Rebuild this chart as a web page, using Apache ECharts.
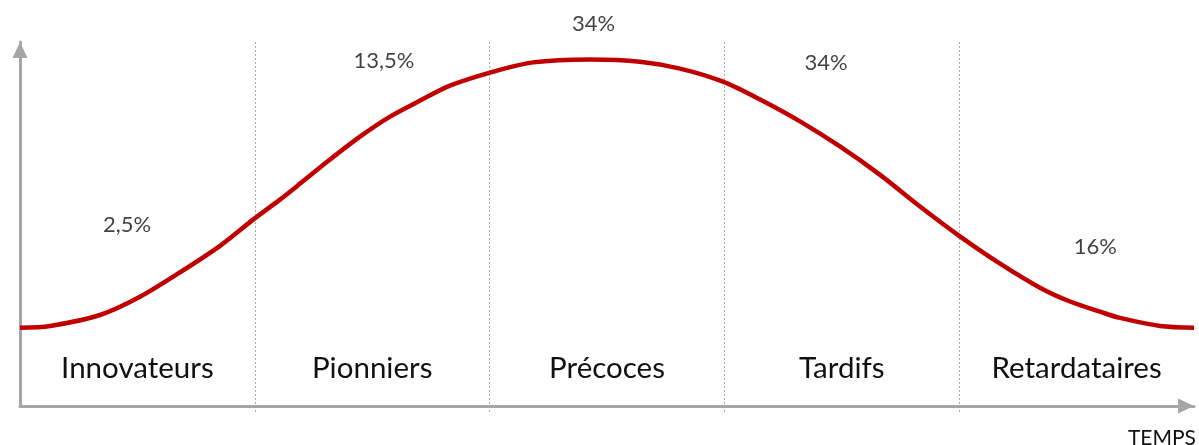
<!DOCTYPE html>
<html>
<head>
<meta charset="utf-8">
<script src="https://cdn.jsdelivr.net/npm/echarts@6/dist/echarts.min.js"></script>
<style>html,body{margin:0;padding:0;background:#fff}#c{width:1199px;height:445px}</style>
</head>
<body>
<div id="c"></div>
<script>
// Adopter categories (one per time segment)
const categories = ['Innovateurs', 'Pionniers', 'Précoces', 'Tardifs', 'Retardataires'];
// Curve: time (segment units 0..5) and adoption level (0..100)
const curveX = [0, 0.128, 0.341, 0.511, 0.681, 0.852, 0.997, 1.107, 1.193, 1.32, 1.448, 1.576, 1.704, 1.831, 2.002, 2.185, 2.428, 2.641, 2.811, 2.994, 3.152, 3.322, 3.492, 3.663, 3.833, 4.003, 4.174, 4.344, 4.472, 4.6, 4.685, 4.855, 5.0];
const curveY = [21.5, 22.0, 25.0, 30.0, 36.7, 44.0, 51.4, 56.7, 61.1, 67.7, 74.0, 79.5, 83.9, 88.0, 91.6, 94.4, 95.2, 94.6, 92.7, 89.1, 84.2, 78.2, 71.3, 63.5, 54.8, 46.6, 39.1, 32.5, 28.7, 25.9, 24.2, 22.0, 21.5];
// Share labels and where they sit
const shareLabels = ['2,5%', '13,5%', '34%', '34%', '16%'];
const shareX = [0.456, 1.55, 2.443, 3.433, 4.58];
const shareY = [49.7, 94.8, 105.1, 94.2, 43.6];
const dividers = [1, 2, 3, 4];
const labelPos = [0.5, 1.5, 2.5, 3.5, 4.5];

const axisGray = '#A6A6A6';
const textColor = '#111111';
const font = 'Lato, "Open Sans", sans-serif';

const chart = echarts.init(document.getElementById('c'), null, {renderer: 'canvas'});
chart.setOption({
  animation: false,
  backgroundColor: '#fff',
  grid: {left: 20, right: 5, top: 42, bottom: 39, containLabel: false, outerBoundsMode: 'none'},
  xAxis: {
    type: 'value', min: 0, max: 5, interval: 1,
    name: 'TEMPS', nameLocation: 'end', nameGap: 2,
    nameTextStyle: {color: textColor, fontSize: 21, fontFamily: font, align: 'right', verticalAlign: 'top', padding: [22, 0, 0, 0]},
    axisLine: {show: true, lineStyle: {color: axisGray, width: 3}, symbol: ['none', 'triangle'], symbolSize: [15, 16], symbolOffset: [0, -8]},
    axisTick: {show: true, customValues: dividers, length: 7, inside: false, lineStyle: {color: axisGray, width: 1, type: [2, 2]}},
    splitLine: {show: true, lineStyle: {color: axisGray, width: 1, type: [2, 2]}},
    axisLabel: {
      show: true, inside: true, margin: 23, customValues: labelPos,
      color: textColor, fontSize: 29.5, fontFamily: font,
      formatter: function (v) { return categories[Math.round(v - 0.5)]; }
    }
  },
  yAxis: {
    type: 'value', min: 0, max: 100,
    axisLine: {show: true, lineStyle: {color: axisGray, width: 3}, symbol: ['none', 'triangle'], symbolSize: [15, 16], symbolOffset: [0, -8]},
    axisTick: {show: false}, axisLabel: {show: false}, splitLine: {show: false}
  },
  series: [
    {
      type: 'line', smooth: 0.3, symbol: 'none', clip: false,
      lineStyle: {color: '#C00000', width: 4.5},
      data: curveX.map((x, i) => [x, curveY[i]])
    },
    {
      type: 'scatter', symbolSize: 1, silent: true, clip: false,
      itemStyle: {color: 'rgba(0,0,0,0)'},
      label: {show: true, position: 'inside', color: textColor, fontSize: 22, fontFamily: font,
        formatter: p => p.name},
      data: shareX.map((x, i) => ({name: shareLabels[i], value: [x, shareY[i]]}))
    }
  ]
});
</script>
</body>
</html>
